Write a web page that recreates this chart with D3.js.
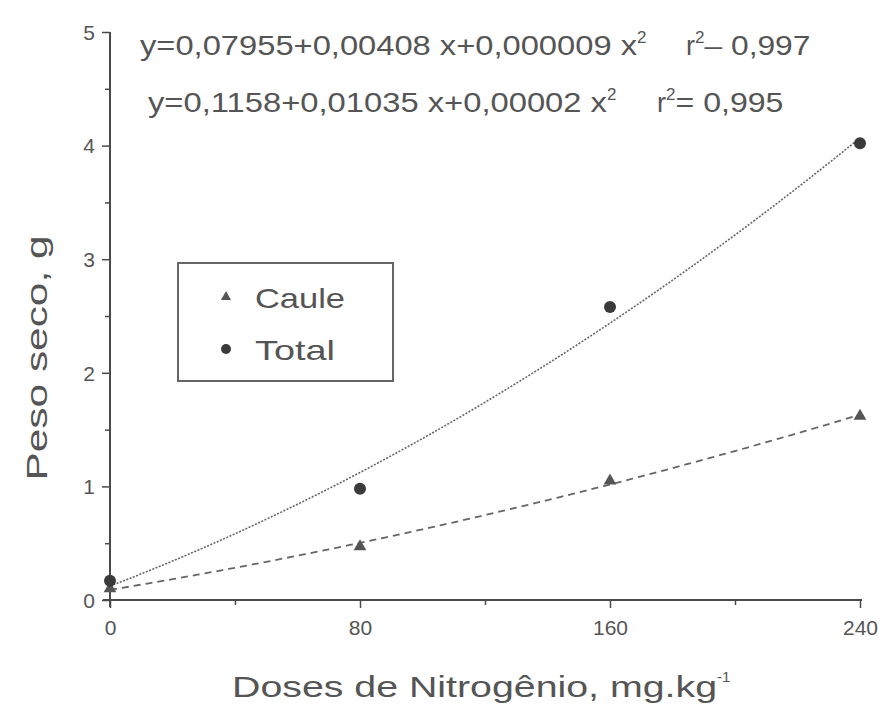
<!DOCTYPE html>
<html><head><meta charset="utf-8">
<script src="https://cdn.jsdelivr.net/npm/d3@7/dist/d3.min.js"></script>
<style>
html,body{margin:0;padding:0;background:#fff;}
svg text{font-family:"Liberation Sans",Arial,sans-serif;fill:#555;}
</style></head>
<body>
<svg id="chart" width="888" height="711"></svg>
<script>
const doses = [0, 80, 160, 240];
const caule = [0.10, 0.47, 1.05, 1.62];
const total = [0.17, 0.98, 2.58, 4.02];
const xTicks = [0, 80, 160, 240];
const xMinor = [40, 120, 200];
const yTicks = [0, 1, 2, 3, 4, 5];
const yMinor = [0.5, 1.5, 2.5, 3.5, 4.5];
const seriesNames = ["Caule", "Total"];
const eqCaule = ["y=0,07955+0,00408 x+0,000009 x", "r", "– 0,997"];
const eqTotal = ["y=0,1158+0,01035 x+0,00002 x", "r", "= 0,995"];

const svg = d3.select("#chart");
const x = d3.scaleLinear().domain([0, 240]).range([110, 860]);
const y = d3.scaleLinear().domain([0, 5]).range([600, 32]);
const axisColor = "#4a4a4a";

// axes
const gx = svg.append("g").attr("transform", "translate(0,600)")
  .call(d3.axisBottom(x).tickValues(xTicks).tickSize(8).tickFormat(d => d));
gx.select(".domain").attr("d", `M${x(0)-7},0H${x(240)+2}`);
svg.append("g").attr("transform", "translate(0,600)")
  .call(d3.axisBottom(x).tickValues(xMinor).tickSize(5).tickFormat(""))
  .select(".domain").remove();
const gy = svg.append("g").attr("transform", `translate(${x(0)},0)`)
  .call(d3.axisLeft(y).tickValues(yTicks).tickSize(8).tickFormat(d => d));
gy.select(".domain").attr("d", `M0,${y(5)}V${y(0)+7}`);
svg.append("g").attr("transform", `translate(${x(0)},0)`)
  .call(d3.axisLeft(y).tickValues(yMinor).tickSize(5).tickFormat(""))
  .select(".domain").remove();
svg.selectAll(".domain").attr("stroke", axisColor).attr("stroke-width", 2);
svg.selectAll(".tick line").attr("stroke", axisColor).attr("stroke-width", 1.5);
gx.selectAll(".tick text").attr("font-size", 21).attr("dy", "1.15em").style("fill", "#555");
gy.selectAll(".tick text").attr("font-size", 21).attr("dx", "-0.2em").attr("dy", "0.35em").style("fill", "#555");

// quadratic least-squares fit from data
function quadFit(xs, ys) {
  let S = [0,0,0,0,0], T = [0,0,0];
  xs.forEach((xi, i) => {
    for (let k = 0; k < 5; k++) S[k] += Math.pow(xi, k);
    for (let k = 0; k < 3; k++) T[k] += Math.pow(xi, k) * ys[i];
  });
  const A = [[S[0],S[1],S[2],T[0]],[S[1],S[2],S[3],T[1]],[S[2],S[3],S[4],T[2]]];
  for (let i = 0; i < 3; i++) {
    for (let j = i + 1; j < 3; j++) {
      const f = A[j][i] / A[i][i];
      for (let k = i; k < 4; k++) A[j][k] -= f * A[i][k];
    }
  }
  const c = [0,0,0];
  for (let i = 2; i >= 0; i--) {
    let s = A[i][3];
    for (let k = i + 1; k < 3; k++) s -= A[i][k] * c[k];
    c[i] = s / A[i][i];
  }
  return v => c[0] + c[1]*v + c[2]*v*v;
}
const grid = d3.range(0, 240.01, 2);
const line = d3.line().x(d => x(d[0])).y(d => y(d[1]));
const fC = quadFit(doses, caule), fT = quadFit(doses, total);
svg.append("path").attr("d", line(grid.map(v => [v, fT(v)])))
  .attr("fill", "none").attr("stroke", "#666").attr("stroke-width", 1.6).attr("stroke-dasharray", "2,1.5");
svg.append("path").attr("d", line(grid.map(v => [v, fC(v)])))
  .attr("fill", "none").attr("stroke", "#666").attr("stroke-width", 1.8).attr("stroke-dasharray", "7,5");

// markers
const tri = d3.symbol().type(d3.symbolTriangle).size(70);
svg.append("g").selectAll("path").data(doses).join("path")
  .attr("d", tri).attr("transform", (d, i) => `translate(${x(d)},${y(caule[i])})`).attr("fill", "#555");
svg.append("g").selectAll("circle").data(doses).join("circle")
  .attr("cx", d => x(d)).attr("cy", (d, i) => y(total[i])).attr("r", 6).attr("fill", "#3a3a3a");

// equations
function eq(parts, xx, yy, w1, rx, w2) {
  const t = svg.append("text").attr("x", xx).attr("y", yy).attr("font-size", 27);
  t.append("tspan").text(parts[0]).attr("textLength", w1).attr("lengthAdjust", "spacingAndGlyphs");
  t.append("tspan").text("2").attr("font-size", 17).attr("dy", -12);
  const t2 = svg.append("text").attr("x", rx).attr("y", yy).attr("font-size", 27);
  t2.append("tspan").text(parts[1]);
  t2.append("tspan").text("2").attr("font-size", 17).attr("dy", -12);
  t2.append("tspan").text(parts[2]).attr("dy", 12).attr("textLength", w2).attr("lengthAdjust", "spacingAndGlyphs");
}
eq(eqCaule, 140, 55, 497, 686, 106);
eq(eqTotal, 148, 112, 459, 657, 108);

// legend
svg.append("rect").attr("x", 178).attr("y", 263).attr("width", 215).attr("height", 118)
  .attr("fill", "#fff").attr("stroke", "#666").attr("stroke-width", 2);
svg.append("path").attr("d", d3.symbol().type(d3.symbolTriangle).size(45))
  .attr("transform", "translate(226,297)").attr("fill", "#555");
svg.append("circle").attr("cx", 226).attr("cy", 349).attr("r", 5).attr("fill", "#3a3a3a");
svg.append("text").attr("x", 255).attr("y", 308).attr("font-size", 28)
  .attr("textLength", 90).attr("lengthAdjust", "spacingAndGlyphs").text(seriesNames[0]);
svg.append("text").attr("x", 255).attr("y", 360).attr("font-size", 28)
  .attr("textLength", 80).attr("lengthAdjust", "spacingAndGlyphs").text(seriesNames[1]);

// axis titles
const xt = svg.append("text").attr("x", 232).attr("y", 697).attr("font-size", 30);
xt.append("tspan").text("Doses de Nitrogênio, mg.kg").attr("textLength", 485).attr("lengthAdjust", "spacingAndGlyphs");
xt.append("tspan").text("-1").attr("font-size", 15).attr("dy", -15);
svg.append("text").attr("transform", "translate(47,358) rotate(-90)")
  .attr("text-anchor", "middle").attr("font-size", 30)
  .attr("textLength", 245).attr("lengthAdjust", "spacingAndGlyphs").text("Peso seco, g");
</script>
</body></html>
